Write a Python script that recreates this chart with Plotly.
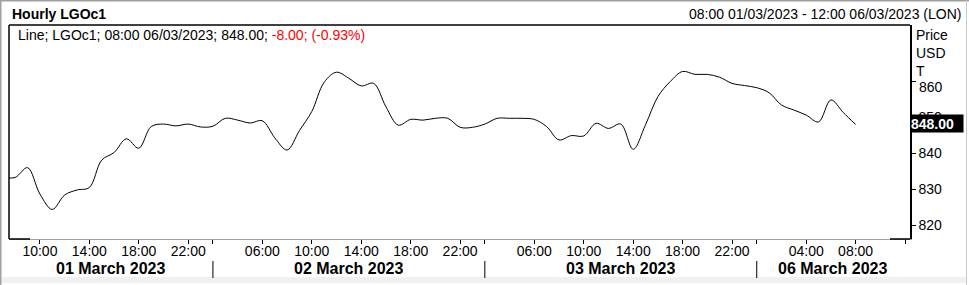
import plotly.graph_objects as go

# ---------------- data ----------------
days = ["01 March 2023", "02 March 2023", "03 March 2023", "06 March 2023"]
# hourly slots shown on the time axis for each trading day
day_hours = [list(range(7, 24)), list(range(2, 24)), list(range(2, 24)), list(range(0, 13))]
labeled_hours = [[10, 14, 18, 22], [6, 10, 14, 18, 22], [6, 10, 14, 18, 22], [4, 8]]
unlabeled_hours = [[], [2], [2], [0, 12]]

price = [
    833.3,
    833.3, 836.0, 828.7, 824.4, 828.4, 829.8, 830.5, 838.1, 840.2, 844.0, 841.4, 847.4, 848.1, 847.6, 848.1, 847.3,
    847.5, 849.7, 849.2, 848.4, 849.0, 844.3, 840.9, 846.3, 851.6, 859.7, 862.5, 860.8, 858.7, 859.4, 852.9, 847.8,
    849.4, 849.2, 849.7, 849.7, 847.2, 847.2,
    848.1, 849.7, 849.7, 849.7, 849.4, 847.4, 843.7, 844.9, 844.8, 848.3, 846.9, 848.1, 841.1, 847.9, 855.7, 859.9,
    862.7, 861.9, 861.9, 861.1, 859.4, 858.8,
    858.2, 856.8, 853.4, 852.0, 850.6, 848.7, 854.8, 851.3, 848.0,
]
y_ticks = [820, 830, 840, 850, 860]
y_top_tick = 860  # its label sits lower, below the unit caption
last_label = "848.00"
legend_black = "Line; LGOc1; 08:00 06/03/2023; 848.00; "
legend_red = "-8.00; (-0.93%)"

# ---------------- build positions ----------------
slots = []
for d, hrs in enumerate(day_hours):
    for h in hrs:
        slots.append((d, h))
offset = 1  # first slot (07:00) sits just left of 08:00
pos = {s: i - offset for i, s in enumerate(slots)}
x_vals = [i - offset for i in range(len(price))]

tickvals, ticktext = [], []
for d in range(len(days)):
    for h in labeled_hours[d]:
        tickvals.append(pos[(d, h)]); ticktext.append(f"{h:02d}:00")
    for h in unlabeled_hours[d]:
        tickvals.append(pos[(d, h)]); ticktext.append("")

x_range = [-0.5, 72.4]
y_range = [816.2, 875.6]

W, H = 969, 285
L, R, T, B = 9, 910, 25, 239


def px(x):
    return (x - L) / (R - L)


def py(y):
    return (B - y) / (B - T)


FONT = "Liberation Sans, Arial, sans-serif"

fig = go.Figure()
fig.add_trace(go.Scatter(
    x=x_vals, y=price, mode="lines",
    line=dict(color="black", width=1, shape="spline", smoothing=1),
    hoverinfo="skip", showlegend=False,
))

annotations = [
    dict(text="<b>Hourly LGOc1</b>", x=px(10), y=py(14), xanchor="left", yanchor="middle",
         font=dict(size=14, color="black")),
    dict(text="08:00 01/03/2023 - 12:00 06/03/2023 (LON)", x=px(963), y=py(14), xanchor="right",
         yanchor="middle", font=dict(size=14, color="black")),
    dict(text=legend_black + f"<span style='color:#ff0000'>{legend_red}</span>", x=px(16), y=py(35),
         xanchor="left", yanchor="middle", font=dict(size=14, color="black")),
    dict(text="Price<br>USD<br>T", x=px(914), y=py(25), xanchor="left", yanchor="top", align="left",
         font=dict(size=14, color="black")),
    dict(text=str(y_top_tick), x=1, xref="paper", y=y_top_tick, yref="y", xanchor="left",
         yanchor="middle", xshift=8, yshift=-6, borderpad=0, font=dict(size=14, color="black")),
    dict(text=f"<b>{last_label}</b>", x=1, xref="paper", y=price[-1], yref="y", xanchor="left",
         yanchor="middle", yshift=1, bgcolor="black", borderpad=0, width=52, height=17, align="left",
         font=dict(size=14, color="white")),
]
for a in annotations:
    a.setdefault("xref", "paper")
    a.setdefault("yref", "paper")
    a["showarrow"] = False

# day labels centred on the visible part of each day
starts = [pos[(d, day_hours[d][0])] for d in range(len(days))]
starts[0] = x_range[0]
ends = starts[1:] + [x_range[1]]
for d, name in enumerate(days):
    annotations.append(dict(text=f"<b>{name}</b>", x=(starts[d] + ends[d]) / 2, xref="x", y=py(268),
                            yref="paper", xanchor="center", yanchor="middle", showarrow=False,
                            font=dict(size=16, color="black")))

shapes = []
# day separators
for d in range(1, len(days)):
    xs = pos[(d, day_hours[d][0])]
    shapes.append(dict(type="line", xref="x", yref="paper", x0=xs, x1=xs, y0=py(261), y1=py(278),
                       line=dict(color="black", width=1)))
# plot frame
shapes += [
    dict(type="line", xref="paper", yref="paper", x0=0, x1=0, y0=0, y1=1, line=dict(color="black", width=1.5)),
    dict(type="line", xref="paper", yref="paper", x0=0, x1=1, y0=1, y1=1, line=dict(color="black", width=1.5)),
    dict(type="line", xref="paper", yref="paper", x0=0, x1=px(30), y0=0, y1=0, line=dict(color="black", width=1.5)),
    dict(type="line", xref="paper", yref="paper", x0=px(890), x1=1, y0=0, y1=0, line=dict(color="black", width=1.5)),
]
# window frame
shapes += [
    dict(type="rect", xref="paper", yref="paper", x0=px(2), x1=px(966), y0=py(277), y1=py(283),
         fillcolor="#f0f0f0", line=dict(width=0), layer="below"),
    dict(type="line", xref="paper", yref="paper", x0=px(0), x1=px(969), y0=py(0.5), y1=py(0.5),
         line=dict(color="#a0a0a0", width=2)),
    dict(type="line", xref="paper", yref="paper", x0=px(0.5), x1=px(0.5), y0=py(0), y1=py(285),
         line=dict(color="#a0a0a0", width=2)),
    dict(type="line", xref="paper", yref="paper", x0=px(966.5), x1=px(966.5), y0=py(0), y1=py(285),
         line=dict(color="#c8c8c8", width=1)),
]

fig.update_layout(
    width=W, height=H,
    margin=dict(l=L, r=W - R, t=T, b=H - B, pad=0),
    paper_bgcolor="white", plot_bgcolor="white",
    font=dict(family=FONT, size=14, color="black"),
    showlegend=False,
    annotations=annotations,
    shapes=shapes,
    xaxis=dict(
        range=x_range, tickmode="array", tickvals=tickvals, ticktext=ticktext,
        showgrid=False, zeroline=False, showline=True, linecolor="#a0a0a0", linewidth=1,
        ticks="outside", ticklen=4, tickcolor="black", tickwidth=1, ticklabelstandoff=-5,
        tickfont=dict(size=14, color="black", family=FONT), fixedrange=True,
    ),
    yaxis=dict(
        range=y_range, side="right", tickmode="array", tickvals=y_ticks,
        ticktext=["" if v == y_top_tick else str(v) for v in y_ticks],
        showgrid=False, zeroline=False, showline=True, linecolor="black", linewidth=1.5,
        ticks="outside", ticklen=4, tickcolor="black", tickwidth=1,
        tickfont=dict(size=14, color="black", family=FONT), fixedrange=True,
    ),
)

fig.write_html("out.html", config={"displayModeBar": False})
